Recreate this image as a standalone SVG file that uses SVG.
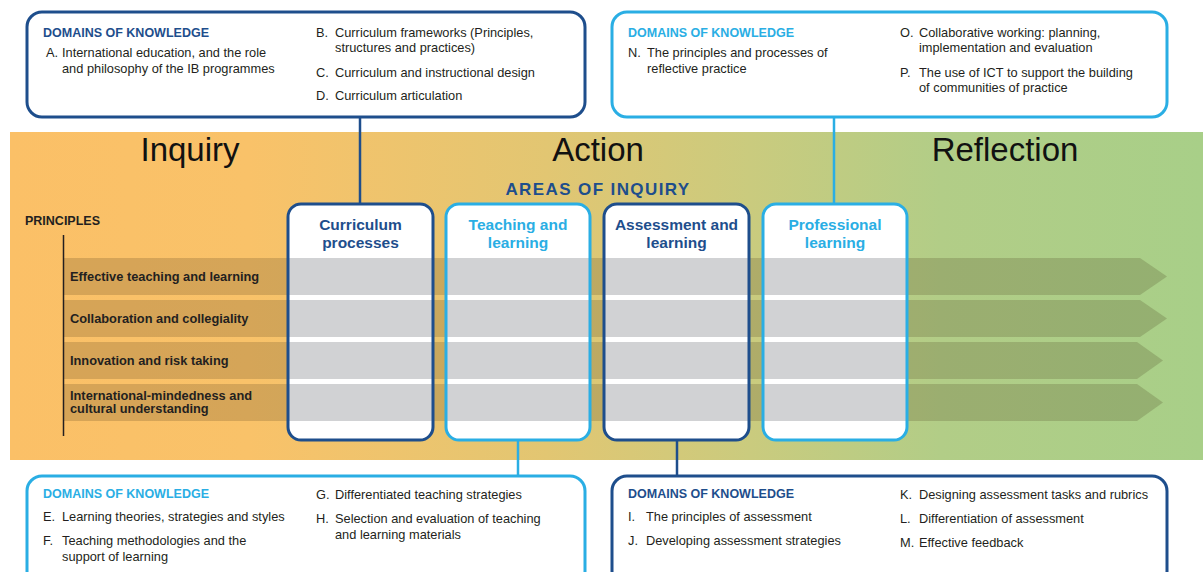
<svg xmlns="http://www.w3.org/2000/svg" width="1203" height="572" viewBox="0 0 1203 572">
<defs>
<linearGradient id="bg" gradientUnits="userSpaceOnUse" x1="10" y1="0" x2="1203" y2="0">
<stop offset="0" stop-color="#FBC067"/>
<stop offset="0.2" stop-color="#F9C269"/>
<stop offset="0.45" stop-color="#E2C672"/>
<stop offset="0.62" stop-color="#CACB7E"/>
<stop offset="0.78" stop-color="#B2CD87"/>
<stop offset="1" stop-color="#A8CF88"/>
</linearGradient>
<style>
.t{font-family:"Liberation Sans",Arial,sans-serif;font-size:12.8px;fill:#231F20}
.h{font-family:"Liberation Sans",Arial,sans-serif;font-size:12.5px;font-weight:bold}
.dk{fill:#1E4E8C}
.lt{fill:#2AAEE4}
.big{font-family:"Liberation Sans",Arial,sans-serif;font-size:33px;fill:#111;text-anchor:middle}
.row{font-family:"Liberation Sans",Arial,sans-serif;font-size:12.8px;font-weight:bold;fill:#231F20}
.col{font-family:"Liberation Sans",Arial,sans-serif;font-size:15.5px;font-weight:bold;text-anchor:middle}
.boxd{fill:#fff;stroke:#1E4E8C;stroke-width:3}
.boxl{fill:#fff;stroke:#2AAEE4;stroke-width:3}
.grey{fill:#D1D2D4}
.arrow{fill:#3A2A10;fill-opacity:0.19}
.cd{stroke:#1E4E8C;stroke-width:2.5}
.cl{stroke:#2AAEE4;stroke-width:2.5}
</style>
</defs>
<rect width="1203" height="572" fill="#fff"/>
<g id="band">
<rect x="10" y="132" width="1193" height="328" fill="url(#bg)"/>
<text class="big" x="190" y="161">Inquiry</text>
<text class="big" x="598" y="161">Action</text>
<text class="big" x="1005" y="161">Reflection</text>
<text x="598" y="195" text-anchor="middle" font-family="Liberation Sans,Arial,sans-serif" font-size="17" font-weight="bold" letter-spacing="1.4" fill="#1E4E8C">AREAS OF INQUIRY</text>
</g>
<g id="principles">
<text class="row" x="25" y="225" style="font-size:12.5px">PRINCIPLES</text>
<line x1="63.5" y1="235" x2="63.5" y2="436" stroke="#231F20" stroke-width="1.5"/>
<polygon class="arrow" points="64,258 1140,258 1167,276.5 1140,295 64,295"/>
<polygon class="arrow" points="64,300 1140,300 1167,318.5 1140,337 64,337"/>
<polygon class="arrow" points="64,342 1137,342 1163,360.5 1137,379 64,379"/>
<polygon class="arrow" points="64,384 1137,384 1163,402.5 1137,421 64,421"/>
<text class="row" x="70" y="281">Effective teaching and learning</text>
<text class="row" x="70" y="323">Collaboration and collegiality</text>
<text class="row" x="70" y="365">Innovation and risk taking</text>
<text class="row" x="70" y="400">International-mindedness and</text>
<text class="row" x="70" y="413">cultural understanding</text>
</g>
<g id="connectors">
<line class="cd" x1="360" y1="117" x2="360" y2="204"/>
<line class="cl" x1="834" y1="117" x2="834" y2="204"/>
<line class="cl" x1="518" y1="440" x2="518" y2="476"/>
<line class="cd" x1="677" y1="440" x2="677" y2="476"/>
</g>
<g id="col-curriculum">
<rect x="288" y="204" width="145" height="236" rx="13" fill="#fff"/>
<rect class="grey" x="289" y="258" width="143" height="37"/>
<rect class="grey" x="289" y="300" width="143" height="37"/>
<rect class="grey" x="289" y="342" width="143" height="37"/>
<rect class="grey" x="289" y="384" width="143" height="37"/>
<rect x="288" y="204" width="145" height="236" rx="13" fill="none" stroke="#1E4E8C" stroke-width="3"/>
<text class="col dk" x="360.5" y="230">Curriculum</text>
<text class="col dk" x="360.5" y="248">processes</text>
</g>
<g id="col-teaching">
<rect x="446" y="204" width="144" height="236" rx="13" fill="#fff"/>
<rect class="grey" x="447" y="258" width="142" height="37"/>
<rect class="grey" x="447" y="300" width="142" height="37"/>
<rect class="grey" x="447" y="342" width="142" height="37"/>
<rect class="grey" x="447" y="384" width="142" height="37"/>
<rect x="446" y="204" width="144" height="236" rx="13" fill="none" stroke="#2AAEE4" stroke-width="3"/>
<text class="col lt" x="518" y="230">Teaching and</text>
<text class="col lt" x="518" y="248">learning</text>
</g>
<g id="col-assessment">
<rect x="604" y="204" width="145" height="236" rx="13" fill="#fff"/>
<rect class="grey" x="605" y="258" width="143" height="37"/>
<rect class="grey" x="605" y="300" width="143" height="37"/>
<rect class="grey" x="605" y="342" width="143" height="37"/>
<rect class="grey" x="605" y="384" width="143" height="37"/>
<rect x="604" y="204" width="145" height="236" rx="13" fill="none" stroke="#1E4E8C" stroke-width="3"/>
<text class="col dk" x="676.5" y="230">Assessment and</text>
<text class="col dk" x="676.5" y="248">learning</text>
</g>
<g id="col-professional">
<rect x="763" y="204" width="144" height="236" rx="13" fill="#fff"/>
<rect class="grey" x="764" y="258" width="142" height="37"/>
<rect class="grey" x="764" y="300" width="142" height="37"/>
<rect class="grey" x="764" y="342" width="142" height="37"/>
<rect class="grey" x="764" y="384" width="142" height="37"/>
<rect x="763" y="204" width="144" height="236" rx="13" fill="none" stroke="#2AAEE4" stroke-width="3"/>
<text class="col lt" x="835" y="230">Professional</text>
<text class="col lt" x="835" y="248">learning</text>
</g>
<g id="dk-curriculum">
<rect class="boxd" x="27" y="12" width="558" height="105" rx="15"/>
<text class="h dk" x="43" y="37">DOMAINS OF KNOWLEDGE</text>
<text class="t" x="46" y="57">A.</text>
<text class="t" x="62" y="57">International education, and the role</text>
<text class="t" x="62" y="73">and philosophy of the IB programmes</text>
<text class="t" x="316" y="37">B.</text>
<text class="t" x="335" y="37">Curriculum frameworks (Principles,</text>
<text class="t" x="335" y="52">structures and practices)</text>
<text class="t" x="316" y="77">C.</text>
<text class="t" x="335" y="77">Curriculum and instructional design</text>
<text class="t" x="316" y="100">D.</text>
<text class="t" x="335" y="100">Curriculum articulation</text>
</g>
<g id="dk-professional">
<rect class="boxl" x="612" y="12" width="555" height="105" rx="15"/>
<text class="h lt" x="628" y="37">DOMAINS OF KNOWLEDGE</text>
<text class="t" x="628" y="57">N.</text>
<text class="t" x="647" y="57">The principles and processes of</text>
<text class="t" x="647" y="73">reflective practice</text>
<text class="t" x="900" y="37">O.</text>
<text class="t" x="919" y="37">Collaborative working: planning,</text>
<text class="t" x="919" y="52">implementation and evaluation</text>
<text class="t" x="900" y="77">P.</text>
<text class="t" x="919" y="77">The use of ICT to support the building</text>
<text class="t" x="919" y="92">of communities of practice</text>
</g>
<g id="dk-teaching">
<rect class="boxl" x="27" y="476" width="558" height="110" rx="15"/>
<text class="h lt" x="43" y="498">DOMAINS OF KNOWLEDGE</text>
<text class="t" x="43" y="521">E.</text>
<text class="t" x="62" y="521">Learning theories, strategies and styles</text>
<text class="t" x="43" y="545">F.</text>
<text class="t" x="62" y="545">Teaching methodologies and the</text>
<text class="t" x="62" y="561">support of learning</text>
<text class="t" x="316" y="499">G.</text>
<text class="t" x="335" y="499">Differentiated teaching strategies</text>
<text class="t" x="316" y="523">H.</text>
<text class="t" x="335" y="523">Selection and evaluation of teaching</text>
<text class="t" x="335" y="539">and learning materials</text>
</g>
<g id="dk-assessment">
<rect class="boxd" x="612" y="476" width="555" height="110" rx="15"/>
<text class="h dk" x="628" y="498">DOMAINS OF KNOWLEDGE</text>
<text class="t" x="628" y="521">I.</text>
<text class="t" x="646" y="521">The principles of assessment</text>
<text class="t" x="628" y="545">J.</text>
<text class="t" x="646" y="545">Developing assessment strategies</text>
<text class="t" x="900" y="499">K.</text>
<text class="t" x="919" y="499">Designing assessment tasks and rubrics</text>
<text class="t" x="900" y="523">L.</text>
<text class="t" x="919" y="523">Differentiation of assessment</text>
<text class="t" x="900" y="547">M.</text>
<text class="t" x="919" y="547">Effective feedback</text>
</g>
</svg>
